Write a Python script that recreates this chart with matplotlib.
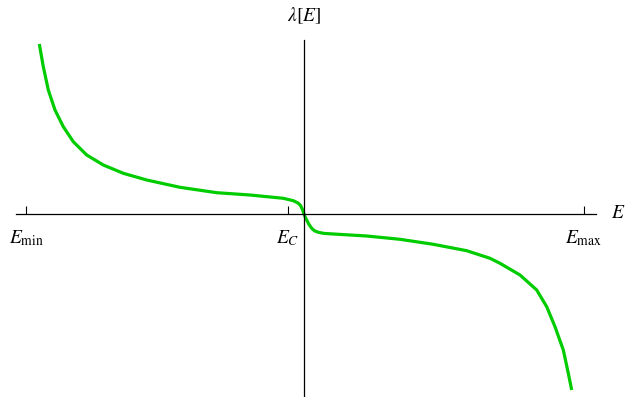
import matplotlib
matplotlib.use("Agg")
import matplotlib.pyplot as plt

plt.rcParams['mathtext.fontset'] = 'stix'
plt.rcParams['font.family'] = ['Liberation Serif', 'DejaVu Serif']

# curve (arbitrary units, origin at the axes crossing)
E = [-2.647, -2.607, -2.557, -2.49, -2.407, -2.307, -2.173, -2.007, -1.807,
     -1.573, -1.24, -0.873, -0.54, -0.207, -0.107, -0.06, -0.035, -0.015, 0.0,
     0.012, 0.027, 0.05, 0.077, 0.105, 0.143, 0.2, 0.293, 0.627, 0.96, 1.293,
     1.627, 1.86, 1.96, 2.16, 2.327, 2.427, 2.51, 2.593, 2.643, 2.677]
lam = [1.70, 1.473, 1.24, 1.04, 0.873, 0.723, 0.59, 0.49, 0.407,
       0.34, 0.267, 0.213, 0.19, 0.157, 0.133, 0.11, 0.085, 0.045, 0.0,
       -0.03, -0.06, -0.105, -0.143, -0.168, -0.183, -0.194, -0.20, -0.22, -0.253, -0.303,
       -0.367, -0.443, -0.493, -0.61, -0.76, -0.927, -1.127, -1.36, -1.593, -1.76]

tick_pos = [-2.78, -0.16, 2.80]
tick_labels = [r'$E_{\mathrm{min}}$', r'$E_C$', r'$E_{\mathrm{max}}$']

fig = plt.figure(figsize=(6.25, 3.97), dpi=100)
ax = fig.add_axes([0, 0, 1, 1])
ax.set_xlim(-3.04, 3.21)
ax.set_ylim(-1.83, 2.14)

ax.plot(E, lam, color='#00cc00', lw=2.3, solid_capstyle='butt',
        solid_joinstyle='round')

for s in ['top', 'right']:
    ax.spines[s].set_visible(False)
ax.spines['bottom'].set_position(('data', 0))
ax.spines['left'].set_position(('data', 0))
ax.spines['bottom'].set_bounds(-2.88, 2.92)
ax.spines['left'].set_bounds(-1.83, 1.74)
for s in ['bottom', 'left']:
    ax.spines[s].set_linewidth(0.9)

ax.set_xticks(tick_pos)
ax.set_xticklabels(tick_labels, fontsize=14)
ax.tick_params(axis='x', direction='in', length=6, width=0.8, pad=10)
ax.set_yticks([])

ax.text(3.14, 0.0, r'$E$', fontsize=14, ha='center', va='center')
ax.text(0.0, 1.98, r'$\lambda[E]$', fontsize=14, ha='center', va='center')

fig.savefig('out.png', dpi=100)
